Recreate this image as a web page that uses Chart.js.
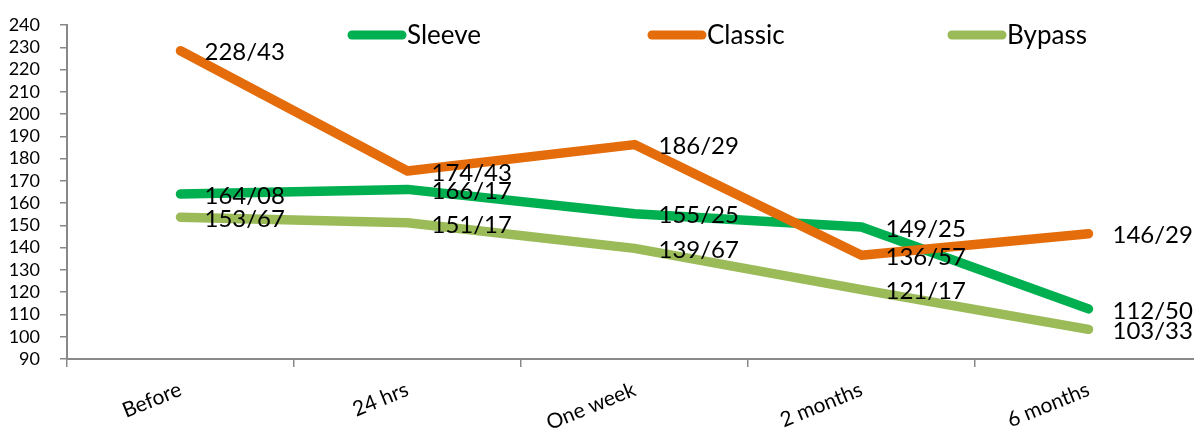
<!DOCTYPE html>
<html>
<head>
<meta charset="utf-8">
<script src="https://cdn.jsdelivr.net/npm/chart.js@4/dist/chart.umd.min.js"></script>
<style>
  html, body { margin: 0; padding: 0; background: #fff; overflow: hidden; }
  #wrap { width: 1194px; height: 430px; overflow: hidden; position: relative; }
  canvas { position: absolute; left: 0; top: 0; }
</style>
</head>
<body>
<div id="wrap"><canvas id="c" width="1202" height="430"></canvas></div>
<script>
const categories = ["Before", "24 hrs", "One week", "2 months", "6 months"];
const seriesNames = ["Sleeve", "Classic", "Bypass"];
const sleeve = [164.08, 166.17, 155.25, 149.25, 112.50];
const classic = [228.43, 174.43, 186.29, 136.57, 146.29];
const bypass = [153.67, 151.17, 139.67, 121.17, 103.33];
const yMin = 90, yMax = 240, yStep = 10;

const colors = ["#00B050", "#E46C0A", "#9BBB59"];
const FONT = "Lato, 'Open Sans', sans-serif";

function fmt(v) { return v.toFixed(2).replace('.', '/'); }

const dataLabelPlugin = {
  id: 'dataLabels',
  afterDatasetsDraw(chart) {
    const ctx = chart.ctx;
    ctx.save();
    ctx.font = "24px " + FONT;
    ctx.fillStyle = "#000";
    ctx.textAlign = "left";
    ctx.textBaseline = "middle";
    chart.data.datasets.forEach((ds, i) => {
      const meta = chart.getDatasetMeta(i);
      meta.data.forEach((pt, j) => {
        ctx.fillText(fmt(ds.data[j]), pt.x + 24, pt.y + 2);
      });
    });
    ctx.restore();
  }
};

const legendPlugin = {
  id: 'customLegend',
  afterDraw(chart) {
    const ctx = chart.ctx;
    ctx.save();
    chart.data.datasets.forEach((ds, i) => {
      const x0 = 352 + i * 300;
      const y = 35;
      ctx.strokeStyle = ds.borderColor;
      ctx.lineWidth = 9;
      ctx.lineCap = 'round';
      ctx.beginPath();
      ctx.moveTo(x0, y);
      ctx.lineTo(x0 + 50, y);
      ctx.stroke();
      ctx.font = "26px " + FONT;
      ctx.fillStyle = "#000";
      ctx.textAlign = "left";
      ctx.textBaseline = "middle";
      ctx.fillText(ds.label, x0 + 55, y + 1);
    });
    ctx.restore();
  }
};

const seriesData = [sleeve, classic, bypass];
const datasets = seriesNames.map((name, i) => ({
  label: name,
  data: seriesData[i],
  borderColor: colors[i],
  backgroundColor: colors[i],
  borderWidth: 9.5,
  borderCapStyle: 'round',
  borderJoinStyle: 'round',
  pointRadius: 0,
  tension: 0,
  fill: false,
  clip: false,
  order: 3 - i
}));

new Chart(document.getElementById('c'), {
  type: 'line',
  data: { labels: categories, datasets },
  options: {
    responsive: false,
    animation: false,
    devicePixelRatio: 1,
    layout: { padding: { top: 25, left: 0, right: 0, bottom: 0 } },
    plugins: {
      legend: { display: false },
      tooltip: { enabled: false },
      title: { display: false }
    },
    scales: {
      x: {
        type: 'category',
        offset: true,
        grid: {
          offset: true,
          drawOnChartArea: false,
          drawTicks: true,
          tickLength: 8,
          color: '#898989',
          lineWidth: 1.5
        },
        border: { display: true, color: '#898989', width: 2 },
        ticks: {
          autoSkip: false,
          minRotation: 22,
          maxRotation: 22,
          padding: 10,
          color: '#000',
          font: { family: FONT, size: 21 }
        },
        afterFit(scale) {
          scale.height = 71;
          scale.paddingLeft = 0; scale.paddingRight = 0;
          scale.paddingTop = 0; scale.paddingBottom = 0;
        }
      },
      y: {
        min: yMin,
        max: yMax,
        grid: {
          drawOnChartArea: false,
          drawTicks: true,
          tickLength: 7,
          color: '#898989',
          lineWidth: 1.5
        },
        border: { display: true, color: '#898989', width: 2 },
        ticks: {
          stepSize: yStep,
          autoSkip: false,
          padding: 20,
          color: '#000',
          font: { family: FONT, size: 18 }
        },
        afterFit(scale) {
          scale.width = 67;
          scale.paddingLeft = 0; scale.paddingRight = 0;
          scale.paddingTop = 0; scale.paddingBottom = 0;
        }
      }
    }
  },
  plugins: [dataLabelPlugin, legendPlugin]
});
</script>
</body>
</html>
